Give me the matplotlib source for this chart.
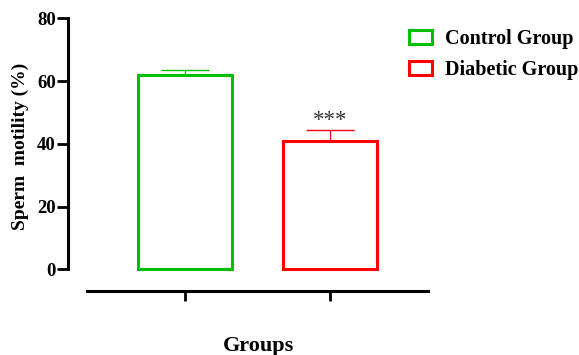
import matplotlib
matplotlib.use("Agg")
import matplotlib.pyplot as plt
from matplotlib.patches import Patch

# group means and upper SD bars for sperm motility (%)
groups = ["Control Group", "Diabetic Group"]
motility = [62.0, 40.9]
motility_sd = [1.6, 3.4]
colors = ["#00c000", "#ff0000"]
significance = ["", "***"]
y_ticks = [0, 20, 40, 60, 80]

plt.rcParams["font.family"] = ["Liberation Serif", "DejaVu Serif"]
plt.rcParams["font.weight"] = "bold"

fig = plt.figure(figsize=(5.79, 3.55), dpi=100)
W, H = 579, 355
ax = fig.add_axes([68.3 / W, 1 - 305 / H, (430 - 68.3) / W, 290 / H])

x = list(range(len(groups)))
bars = ax.bar(x, motility, width=0.651, facecolor="white", edgecolor=colors,
              linewidth=2.2, zorder=3, clip_on=False)
for xi, m, sd, c in zip(x, motility, motility_sd, colors):
    ax.errorbar(xi, m, yerr=[[0], [sd]], fmt="none", ecolor=c, elinewidth=0.9,
                capsize=17, capthick=1.0, zorder=2, clip_on=False)
for xi, m, sd, s in zip(x, motility, motility_sd, significance):
    if s:
        ax.text(xi, m + sd - 0.2, s, ha="center", va="bottom", fontsize=16.5,
                fontweight="normal", color="#333333")

ax.set_xlim(-0.810, 1.695)
ax.set_ylim(-11.38, 81.05)

# detached axes in the Prism style
ax.spines["top"].set_visible(False)
ax.spines["right"].set_visible(False)
ax.spines["left"].set_bounds(0, 80)
ax.spines["left"].set_linewidth(2.2)
ax.spines["bottom"].set_position(("data", -6.82))
ax.spines["bottom"].set_bounds(-0.683, 1.683)
ax.spines["bottom"].set_linewidth(2.2)

ax.set_yticks(y_ticks)
ax.set_yticklabels([str(t) for t in y_ticks], fontsize=13.5, fontweight="bold")
ax.tick_params(axis="y", length=8, width=2.0, pad=1)
ax.set_xticks(x)
ax.set_xticklabels([])
ax.tick_params(axis="x", length=7.2, width=2.0)

fig.text(20 / W, 1 - 146 / H, "Sperm  motility (%)", rotation=90, ha="center",
         va="center", fontsize=14, fontweight="bold")
fig.text(258 / W, 1 - 351 / H, "Groups", ha="center", va="baseline",
         fontsize=16, fontweight="bold")

handles = [Patch(facecolor="white", edgecolor=c, linewidth=2.2) for c in colors]
fig.legend(handles, groups, loc="upper left", bbox_to_anchor=(409 / W, 1 - 29 / H),
           frameon=False, prop={"weight": "bold", "size": 14.5},
           handlelength=1.15, handleheight=0.65, handletextpad=0.65,
           labelspacing=0.55, borderpad=0, borderaxespad=0)

fig.savefig("out.png", dpi=100)
